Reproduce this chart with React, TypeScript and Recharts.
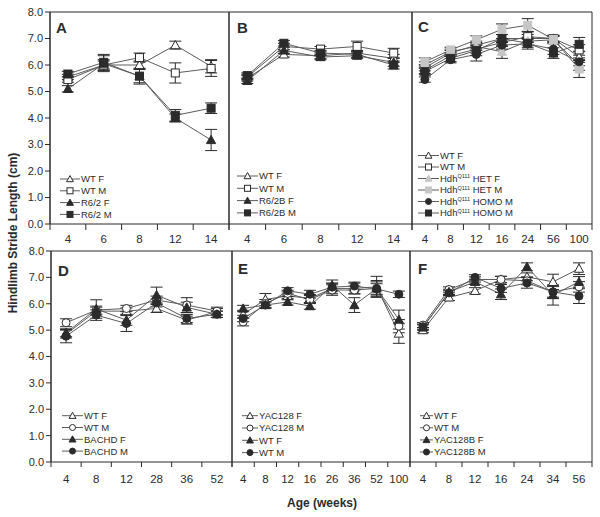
import React from "react";
import { LineChart, Line, XAxis, YAxis, ErrorBar, ReferenceArea } from "recharts";

const FONT = '"Liberation Sans", Arial, Helvetica, sans-serif';
const INK = "#2b2b2b";
const LINE = "#5c5c5c";
const LIGHT = "#c6c6c6";

// A: R6/2
const agesA = ["4", "6", "8", "12", "14"];
const aWtF = [5.55, 6.0, 6.0, 6.75, 5.95];
const aWtFErr = [0.1, 0.15, 0.15, 0.15, 0.25];
const aWtM = [5.45, 6.0, 6.28, 5.7, 5.87];
const aWtMErr = [0.1, 0.2, 0.17, 0.38, 0.3];
const aR62F = [5.1, 6.05, 5.58, 4.0, 3.17];
const aR62FErr = [0.12, 0.3, 0.25, 0.15, 0.4];
const aR62M = [5.66, 6.1, 5.58, 4.1, 4.37];
const aR62MErr = [0.1, 0.3, 0.3, 0.22, 0.2];

// B: R6/2B
const agesB = ["4", "6", "8", "12", "14"];
const bWtF = [5.5, 6.4, 6.35, 6.45, 6.25];
const bWtFErr = [0.1, 0.1, 0.1, 0.1, 0.15];
const bWtM = [5.55, 6.7, 6.6, 6.7, 6.45];
const bWtMErr = [0.1, 0.12, 0.1, 0.2, 0.18];
const bR62BF = [5.4, 6.55, 6.3, 6.35, 6.1];
const bR62BFErr = [0.1, 0.12, 0.1, 0.1, 0.15];
const bR62BM = [5.6, 6.82, 6.45, 6.4, 6.0];
const bR62BMErr = [0.1, 0.1, 0.1, 0.12, 0.15];

// C: HdhQ111
const agesC = ["4", "8", "12", "16", "24", "56", "100"];
const cWtF = [5.9, 6.45, 6.75, 7.0, 7.0, 7.0, 6.3];
const cWtFErr = [0.12, 0.1, 0.15, 0.15, 0.15, 0.12, 0.2];
const cWtM = [5.8, 6.35, 6.6, 6.85, 7.07, 7.0, 6.57];
const cWtMErr = [0.12, 0.1, 0.15, 0.15, 0.2, 0.12, 0.2];
const cHetF = [6.0, 6.5, 6.7, 6.5, 6.9, 6.95, 6.0];
const cHetFErr = [0.12, 0.1, 0.15, 0.25, 0.15, 0.12, 0.2];
const cHetM = [6.12, 6.57, 6.95, 7.35, 7.5, 6.97, 5.85];
const cHetMErr = [0.15, 0.1, 0.15, 0.2, 0.25, 0.12, 0.32];
const cHomoF = [5.45, 6.2, 6.4, 6.75, 6.8, 6.6, 6.12];
const cHomoFErr = [0.1, 0.12, 0.25, 0.15, 0.2, 0.2, 0.15];
const cHomoM = [5.75, 6.25, 6.55, 7.0, 6.82, 6.45, 6.78];
const cHomoMErr = [0.12, 0.12, 0.2, 0.15, 0.15, 0.2, 0.26];

// D: BACHD
const agesD = ["4", "8", "12", "28", "36", "52"];
const dWtF = [4.85, 5.72, 5.72, 5.82, 5.38, 5.7];
const dWtFErr = [0.15, 0.15, 0.12, 0.15, 0.15, 0.12];
const dWtM = [5.28, 5.76, 5.82, 6.14, 5.95, 5.72];
const dWtMErr = [0.15, 0.15, 0.12, 0.15, 0.28, 0.15];
const dBachdF = [4.9, 5.8, 5.38, 6.33, 5.86, 5.6];
const dBachdFErr = [0.15, 0.35, 0.2, 0.3, 0.2, 0.12];
const dBachdM = [4.77, 5.57, 5.25, 6.03, 5.44, 5.6];
const dBachdMErr = [0.25, 0.2, 0.3, 0.15, 0.15, 0.12];

// E: YAC128
const agesE = ["4", "8", "12", "16", "26", "36", "52", "100"];
const eYacF = [5.6, 6.16, 6.3, 6.2, 6.58, 6.58, 6.64, 4.87];
const eYacFErr = [0.15, 0.23, 0.15, 0.15, 0.2, 0.2, 0.4, 0.37];
const eYacM = [5.31, 6.01, 6.39, 6.16, 6.52, 6.52, 6.58, 5.15];
const eYacMErr = [0.15, 0.15, 0.12, 0.15, 0.2, 0.15, 0.3, 0.25];
const eWtF = [5.82, 5.95, 6.07, 5.91, 6.7, 5.95, 6.58, 5.4];
const eWtFErr = [0.12, 0.12, 0.12, 0.12, 0.2, 0.28, 0.25, 0.36];
const eWtM = [5.44, 5.95, 6.49, 6.36, 6.63, 6.67, 6.56, 6.36];
const eWtMErr = [0.12, 0.12, 0.12, 0.15, 0.15, 0.15, 0.2, 0.12];

// F: YAC128B
const agesF = ["4", "8", "12", "16", "24", "34", "56"];
const fWtF = [5.0, 6.24, 6.49, 6.92, 7.02, 6.83, 7.33];
const fWtFErr = [0.1, 0.12, 0.12, 0.12, 0.15, 0.29, 0.22];
const fWtM = [5.19, 6.54, 6.92, 6.92, 6.87, 6.45, 6.64];
const fWtMErr = [0.1, 0.1, 0.1, 0.12, 0.15, 0.2, 0.2];
const fYacF = [5.1, 6.45, 6.83, 6.36, 7.4, 6.33, 6.83];
const fYacFErr = [0.1, 0.1, 0.1, 0.2, 0.15, 0.38, 0.2];
const fYacM = [5.13, 6.41, 7.0, 6.58, 6.79, 6.45, 6.29];
const fYacMErr = [0.1, 0.1, 0.1, 0.15, 0.2, 0.25, 0.28];

const yTicks = [0, 1, 2, 3, 4, 5, 6, 7, 8];

type Kind = "triOpen" | "sqOpen" | "triFill" | "sqFill" | "circOpen" | "circFill" | "triLight" | "sqLight";

interface Series {
  label: string[]; // [text] or [before, superscript, after]
  kind: Kind;
  values: number[];
  errors: number[];
}

interface Panel {
  letter: string;
  ages: string[];
  series: Series[];
  left: number;
  right: number;
  top: number;
  bottom: number;
  yAxis: boolean;
  tickLen: number;
  labelDy: number;
  legendX: number;
  legendY: number;
  legendW: number;
  legendGap: number;
  letterX: number;
  letterY: number;
}

const panels: Panel[] = [
  {
    letter: "A", ages: agesA, left: 50, right: 229, top: 12, bottom: 224, yAxis: true, tickLen: 6, labelDy: 19,
    legendX: 60, legendY: 179, legendW: 20, legendGap: 11.8, letterX: 56, letterY: 33,
    series: [
      { label: ["WT F"], kind: "triOpen", values: aWtF, errors: aWtFErr },
      { label: ["WT M"], kind: "sqOpen", values: aWtM, errors: aWtMErr },
      { label: ["R6/2 F"], kind: "triFill", values: aR62F, errors: aR62FErr },
      { label: ["R6/2 M"], kind: "sqFill", values: aR62M, errors: aR62MErr },
    ],
  },
  {
    letter: "B", ages: agesB, left: 229, right: 412, top: 12, bottom: 224, yAxis: false, tickLen: 6, labelDy: 19,
    legendX: 237, legendY: 176, legendW: 21, legendGap: 12.3, letterX: 237, letterY: 33,
    series: [
      { label: ["WT F"], kind: "triOpen", values: bWtF, errors: bWtFErr },
      { label: ["WT M"], kind: "sqOpen", values: bWtM, errors: bWtMErr },
      { label: ["R6/2B F"], kind: "triFill", values: bR62BF, errors: bR62BFErr },
      { label: ["R6/2B M"], kind: "sqFill", values: bR62BM, errors: bR62BMErr },
    ],
  },
  {
    letter: "C", ages: agesC, left: 412, right: 592, top: 12, bottom: 224, yAxis: false, tickLen: 6, labelDy: 19,
    legendX: 418, legendY: 155.5, legendW: 21, legendGap: 11.5, letterX: 418, letterY: 32,
    series: [
      { label: ["WT F"], kind: "triOpen", values: cWtF, errors: cWtFErr },
      { label: ["WT M"], kind: "sqOpen", values: cWtM, errors: cWtMErr },
      { label: ["Hdh", "Q111", " HET F"], kind: "triLight", values: cHetF, errors: cHetFErr },
      { label: ["Hdh", "Q111", " HET M"], kind: "sqLight", values: cHetM, errors: cHetMErr },
      { label: ["Hdh", "Q111", " HOMO M"], kind: "circFill", values: cHomoF, errors: cHomoFErr },
      { label: ["Hdh", "Q111", " HOMO M"], kind: "sqFill", values: cHomoM, errors: cHomoMErr },
    ],
  },
  {
    letter: "D", ages: agesD, left: 51, right: 232, top: 251, bottom: 462, yAxis: true, tickLen: 5, labelDy: 21,
    legendX: 62, legendY: 415.7, legendW: 21, legendGap: 11.8, letterX: 58, letterY: 276,
    series: [
      { label: ["WT F"], kind: "triOpen", values: dWtF, errors: dWtFErr },
      { label: ["WT M"], kind: "circOpen", values: dWtM, errors: dWtMErr },
      { label: ["BACHD F"], kind: "triFill", values: dBachdF, errors: dBachdFErr },
      { label: ["BACHD M"], kind: "circFill", values: dBachdM, errors: dBachdMErr },
    ],
  },
  {
    letter: "E", ages: agesE, left: 232, right: 410, top: 251, bottom: 462, yAxis: false, tickLen: 5, labelDy: 21,
    legendX: 242, legendY: 415.7, legendW: 16, legendGap: 12.3, letterX: 238, letterY: 274,
    series: [
      { label: ["YAC128 F"], kind: "triOpen", values: eYacF, errors: eYacFErr },
      { label: ["YAC128 M"], kind: "circOpen", values: eYacM, errors: eYacMErr },
      { label: ["WT F"], kind: "triFill", values: eWtF, errors: eWtFErr },
      { label: ["WT M"], kind: "circFill", values: eWtM, errors: eWtMErr },
    ],
  },
  {
    letter: "F", ages: agesF, left: 410, right: 592, top: 251, bottom: 462, yAxis: false, tickLen: 5, labelDy: 21,
    legendX: 420, legendY: 415.7, legendW: 13, legendGap: 12.1, letterX: 418, letterY: 273.5,
    series: [
      { label: ["WT F"], kind: "triOpen", values: fWtF, errors: fWtFErr },
      { label: ["WT M"], kind: "circOpen", values: fWtM, errors: fWtMErr },
      { label: ["YAC128B F"], kind: "triFill", values: fYacF, errors: fYacFErr },
      { label: ["YAC128B M"], kind: "circFill", values: fYacM, errors: fYacMErr },
    ],
  },
];

function Marker({ kind, cx, cy, s = 4 }: { kind: Kind; cx: number; cy: number; s?: number }) {
  const light = kind.endsWith("Light");
  const fill = kind.endsWith("Open") ? "#fff" : light ? LIGHT : INK;
  const stroke = light ? LIGHT : INK;
  if (kind.startsWith("tri")) {
    const pts = `${cx},${cy - s * 1.15} ${cx - s * 1.15},${cy + s * 0.9} ${cx + s * 1.15},${cy + s * 0.9}`;
    return <polygon points={pts} fill={fill} stroke={stroke} strokeWidth={1} />;
  }
  if (kind.startsWith("sq")) {
    return <rect x={cx - s} y={cy - s} width={s * 2} height={s * 2} fill={fill} stroke={stroke} strokeWidth={1} />;
  }
  return <circle cx={cx} cy={cy} r={s} fill={fill} stroke={stroke} strokeWidth={1} />;
}

function PanelChart({ p }: { p: Panel }) {
  const n = p.ages.length;
  const idx = p.ages.map((_, i) => i);
  const data = p.ages.map((age, i) => {
    const row: Record<string, number | string> = { i, age };
    p.series.forEach((s, k) => {
      row[`s${k}`] = s.values[i];
      row[`e${k}`] = s.errors[i];
    });
    return row;
  });
  const pad = 6;
  const yw = p.yAxis ? 50 : 0;
  const xh = 30;
  const chartLeft = p.left - yw - pad;
  const chartTop = p.top - pad;
  const width = p.right + pad - chartLeft;
  const height = p.bottom + xh - chartTop;
  const bw = (p.right - p.left) / n;

  const tick = (props: any) => {
    const { x, y, payload } = props;
    const i = payload.value as number;
    return (
      <g>
        <line x1={x - bw / 2} y1={y} x2={x - bw / 2} y2={y + p.tickLen} stroke={INK} strokeWidth={1} />
        {i === n - 1 && (
          <line x1={x + bw / 2} y1={y} x2={x + bw / 2} y2={y + p.tickLen} stroke={INK} strokeWidth={1} />
        )}
        <text x={x} y={y + p.labelDy} textAnchor="middle" fontSize={11.5} fill={INK} fontFamily={FONT}>
          {p.ages[i]}
        </text>
      </g>
    );
  };

  return (
    <div style={{ position: "absolute", left: chartLeft, top: chartTop }}>
      <LineChart width={width} height={height} data={data} margin={{ top: pad, right: pad, left: pad, bottom: 0 }}>
        <XAxis
          type="number"
          dataKey="i"
          domain={[-0.5, n - 0.5]}
          ticks={idx}
          interval={0}
          tickLine={false}
          axisLine={false}
          tickSize={0}
          tickMargin={0}
          height={xh}
          tick={tick}
        />
        {p.yAxis ? (
          <YAxis
            domain={[0, 8]}
            ticks={yTicks}
            interval={0}
            width={yw}
            tickSize={5}
            tickMargin={2}
            tickFormatter={(v: number) => v.toFixed(1)}
            tick={{ fontSize: 11, fill: INK, fontFamily: FONT }}
            axisLine={{ stroke: INK }}
            tickLine={{ stroke: INK }}
          />
        ) : (
          <YAxis hide domain={[0, 8]} />
        )}
        <ReferenceArea x1={-0.5} x2={n - 0.5} y1={0} y2={8} fill="none" stroke={INK} strokeWidth={1} />
        {p.series.map((s, k) => (
          <Line
            key={k}
            dataKey={`s${k}`}
            stroke={LINE}
            strokeWidth={1}
            isAnimationActive={false}
            dot={(d: any) => <Marker key={`d${k}-${d.index}`} kind={s.kind} cx={d.cx} cy={d.cy} />}
            activeDot={false}
          >
            <ErrorBar dataKey={`e${k}`} width={6} stroke={INK} strokeWidth={1} direction="y" />
          </Line>
        ))}
      </LineChart>
    </div>
  );
}

function Legend({ p }: { p: Panel }) {
  return (
    <g>
      {p.series.map((s, k) => {
        const cy = p.legendY + k * p.legendGap;
        const x0 = p.legendX;
        const x1 = p.legendX + p.legendW;
        return (
          <g key={k}>
            <line x1={x0} y1={cy} x2={x1} y2={cy} stroke={LINE} strokeWidth={1} />
            <Marker kind={s.kind} cx={(x0 + x1) / 2} cy={cy} s={3} />
            <text x={x1 + 1} y={cy + 3.4} fontSize={9.5} fill={INK} fontFamily={FONT}>
              {s.label.length === 1 ? (
                s.label[0]
              ) : (
                <>
                  {s.label[0]}
                  <tspan dy={-3.5} fontSize={5.5}>{s.label[1]}</tspan>
                  <tspan dy={3.5} fontSize={9.5}>{s.label[2]}</tspan>
                </>
              )}
            </text>
          </g>
        );
      })}
    </g>
  );
}

export default function App() {
  return (
    <div style={{ position: "absolute", left: 0, top: 0, width: 600, height: 517, background: "#fff", fontFamily: FONT }}>
      {panels.map((p) => (
        <PanelChart key={p.letter} p={p} />
      ))}
      <svg width={600} height={517} style={{ position: "absolute", left: 0, top: 0, pointerEvents: "none" }}>
        {panels.map((p) => (
          <g key={p.letter}>
            <text x={p.letterX} y={p.letterY} fontSize={15} fontWeight="bold" fill={INK} fontFamily={FONT}>
              {p.letter}
            </text>
            <Legend p={p} />
          </g>
        ))}
        <text
          x={13}
          y={233}
          transform="rotate(-90, 13, 233)"
          textAnchor="middle"
          dominantBaseline="central"
          fontSize={12}
          fontWeight="bold"
          fill={INK}
          fontFamily={FONT}
        >
          Hindlimb Stride Length (cm)
        </text>
        <text x={322} y={507} textAnchor="middle" fontSize={12} fontWeight="bold" fill={INK} fontFamily={FONT}>
          Age (weeks)
        </text>
      </svg>
    </div>
  );
}
